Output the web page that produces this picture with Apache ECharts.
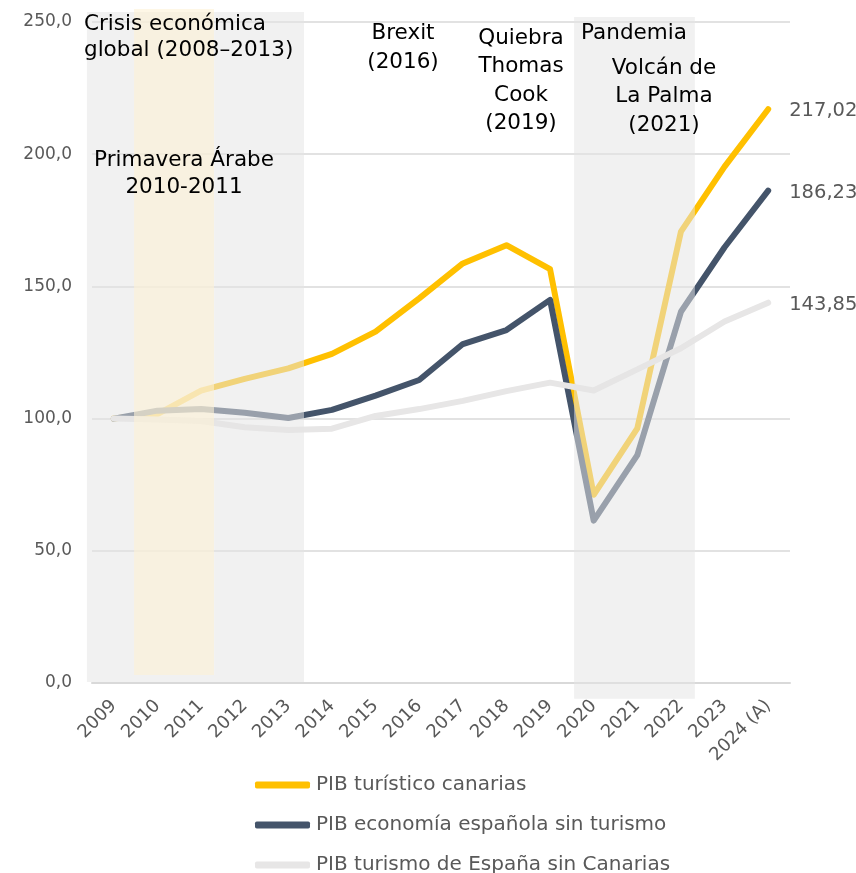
<!DOCTYPE html>
<html>
<head>
<meta charset="utf-8">
<title>PIB turístico</title>
<script src="https://cdn.jsdelivr.net/npm/echarts@6/dist/echarts.min.js"></script>
<style>
	html, body { margin: 0; padding: 0; background: #fff; }
	#chart { width: 856px; height: 873px; }
</style>
</head>
<body>
<div id="chart"></div>
<script>
	// categorias eje x
	const years = ['2009','2010','2011','2012','2013','2014','2015','2016','2017','2018','2019','2020','2021','2022','2023','2024 (A)']
	// series (indice 2009 = 100)
	const pibCanarias = [100, 101.7, 110.6, 115, 119, 124.5, 132.9, 145.5, 158.7, 165.6, 156.5, 71.2, 96.3, 170.7, 195.3, 217.02]
	const pibSinTurismo = [100, 103, 103.6, 102.2, 100.2, 103.3, 108.7, 114.6, 128.2, 133.5, 144.9, 61.4, 86.2, 140.4, 164.8, 186.23]
	const pibTurismoSinCanarias = [100, 99.7, 99.1, 96.7, 95.7, 96.2, 101, 103.6, 106.7, 110.4, 113.6, 110.6, 118.6, 126.6, 136.7, 143.85]
	const seriesNames = ['PIB turístico canarias', 'PIB economía española sin turismo', 'PIB turismo de España sin Canarias']
	// ticks eje y
	const yTicks = [0, 50, 100, 150, 200, 250]
	// periodos sombreados: [inicio, fin] en indice de categoria, [arriba, abajo] en valor
	const periodBands = [
		[-0.615, 4.36, 253.8, 0.4, 'rgba(229,229,229,0.53)'],
		[0.463, 2.297, 254.9, 3.0, 'rgba(253,241,213,0.6)'],
		[10.55, 13.32, 251.9, -6, 'rgba(229,229,229,0.53)']
	]

	const fmt = v => Number(v).toFixed(1).replace('.', ',')
	const fmt2 = v => Number(v).toFixed(2).replace('.', ',')
	const grey = '#595959'
	const font = 'DejaVu Sans'

	let myChart = echarts.init(document.getElementById('chart'))

	function annot(text, x, y, align, lh){
		return {
			type: 'text',
			x: x, y: y, z: 100,
			style: {
				text: text,
				align: align, textAlign: align,
				verticalAlign: 'top', textVerticalAlign: 'top',
				fill: '#000',
				font: '21.5px "' + font + '"',
				lineHeight: lh
			}
		}
	}

	const lineColors = ['#FFC000', '#44546A', '#E7E6E6']
	const lineData = [pibCanarias, pibSinTurismo, pibTurismoSinCanarias]

	myChart.setOption({
		animation: false,
		textStyle: { fontFamily: font },
		grid: { left: 92, right: 66, top: 22, bottom: 190 },
		legend: {
			orient: 'vertical',
			left: 250,
			top: 770,
			height: 160,
			itemGap: 20,
			itemWidth: 55,
			itemHeight: 7,
			icon: 'roundRect',
			data: seriesNames,
			textStyle: { color: grey, fontSize: 20, fontFamily: font, padding: [0, 0, 0, 1] }
		},
		xAxis: [
			{
				type: 'category',
				data: years,
				boundaryGap: true,
				axisLine: { lineStyle: { color: '#D9D9D9', width: 2 } },
				axisTick: { show: false },
				axisLabel: {
					rotate: 45,
					interval: 0,
					margin: 20,
					color: grey,
					fontSize: 18,
					fontFamily: font
				}
			},
			{
				// eje auxiliar para las bandas
				type: 'value',
				show: false,
				min: -0.5,
				max: 15.5,
				position: 'top'
			}
		],
		yAxis: {
			type: 'value',
			min: yTicks[0],
			max: yTicks[yTicks.length - 1],
			interval: 50,
			axisLine: { show: false },
			axisTick: { show: false },
			splitLine: { lineStyle: { color: '#D9D9D9', width: 1.5 } },
			axisLabel: {
				margin: 20,
				color: grey,
				fontSize: 17,
				fontFamily: font,
				formatter: fmt
			}
		},
		graphic: [
			annot('Crisis económica\nglobal (2008–2013)', 84, 11, 'left', 26),
			annot('Primavera Árabe\n2010-2011', 184, 147, 'center', 27),
			annot('Brexit\n(2016)', 403, 19, 'center', 29),
			annot('Quiebra\nThomas\nCook\n(2019)', 521, 24, 'center', 28.4),
			annot('Pandemia', 634, 19, 'center', 28),
			annot('Volcán de\nLa Palma\n(2021)', 664, 54, 'center', 28.5)
		],
		series: seriesNames.map((name, i) => ({
			name: name,
			type: 'line',
			data: lineData[i],
			symbol: 'none',
			z: 2,
			lineStyle: { color: lineColors[i], width: 6, cap: 'round', join: 'round' },
			itemStyle: { color: lineColors[i] },
			endLabel: {
				show: true,
				distance: 21,
				offset: [0, 2],
				color: grey,
				fontSize: 19.5,
				fontFamily: font,
				formatter: p => fmt2(p.value)
			}
		})).concat([{
			type: 'custom',
			name: 'bandas',
			xAxisIndex: 1,
			yAxisIndex: 0,
			z: 5,
			silent: true,
			clip: false,
			data: periodBands.map(b => [b[0], b[1], b[2], b[3]]),
			renderItem: (params, api) => {
				const p0 = api.coord([api.value(0), api.value(2)])
				const p1 = api.coord([api.value(1), api.value(3)])
				return {
					type: 'rect',
					shape: { x: p0[0], y: p0[1], width: p1[0] - p0[0], height: p1[1] - p0[1] },
					style: { fill: periodBands[params.dataIndex][4] }
				}
			}
		}])
	})
</script>
</body>
</html>
